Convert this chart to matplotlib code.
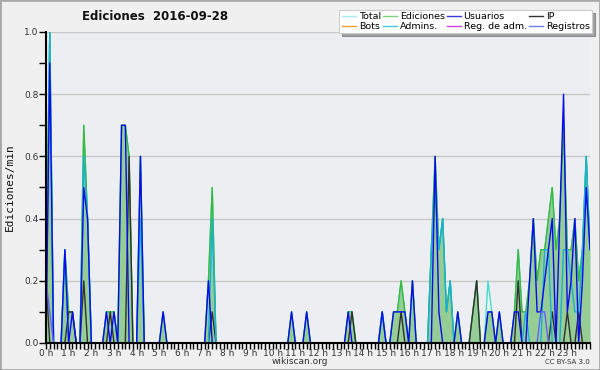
import numpy as np
import matplotlib
matplotlib.use("Agg")
from matplotlib import pyplot as plt
from matplotlib.patches import Rectangle
from matplotlib.ticker import MultipleLocator, FixedLocator, FormatStrFormatter

# edits per minute, 10 minute slots from 00:00 to 24:00
ediciones = [
    0.2, 1.0, 0, 0, 0, 0.3, 0.1, 0.1, 0, 0, 0.7, 0.4,
    0, 0, 0, 0, 0.1, 0.1, 0.1, 0, 0.7, 0.7, 0.6, 0,
    0, 0.6, 0, 0, 0, 0, 0, 0.1, 0, 0, 0, 0,
    0, 0, 0, 0, 0, 0, 0, 0.2, 0.5, 0, 0, 0,
    0, 0, 0, 0, 0, 0, 0, 0, 0, 0, 0, 0,
    0, 0, 0, 0, 0, 0.1, 0, 0, 0, 0.1, 0, 0,
    0, 0, 0, 0, 0, 0, 0, 0, 0.1, 0.1, 0, 0,
    0, 0, 0, 0, 0, 0.1, 0, 0, 0.1, 0.1, 0.2, 0.1,
    0, 0.2, 0, 0, 0, 0, 0.3, 0.6, 0.3, 0.4, 0.1, 0.2,
    0, 0.1, 0, 0, 0, 0.1, 0.2, 0, 0, 0.1, 0.1, 0,
    0.1, 0, 0, 0, 0.1, 0.3, 0.1, 0.1, 0.2, 0.4, 0.2, 0.3,
    0.3, 0.4, 0.5, 0.3, 0.4, 0.7, 0.3, 0.3, 0.4, 0.2, 0.3, 0.6,
    0.3]
total = [
    0.2, 1.0, 0, 0, 0, 0.3, 0.1, 0.1, 0, 0, 0.7, 0.4,
    0, 0, 0, 0, 0.1, 0.1, 0.1, 0, 0.7, 0.7, 0.6, 0,
    0, 0.6, 0, 0, 0, 0, 0, 0.1, 0, 0, 0, 0,
    0, 0, 0, 0, 0, 0, 0, 0.2, 0.5, 0, 0, 0,
    0, 0, 0, 0, 0, 0, 0, 0, 0, 0, 0, 0,
    0, 0, 0, 0, 0, 0.1, 0, 0, 0, 0.1, 0, 0,
    0, 0, 0, 0, 0, 0, 0, 0, 0.1, 0.1, 0, 0,
    0, 0, 0, 0, 0, 0.1, 0, 0, 0.1, 0.1, 0.2, 0.1,
    0, 0.2, 0, 0, 0, 0, 0.3, 0.6, 0.3, 0.4, 0.1, 0.2,
    0, 0.1, 0, 0, 0, 0.1, 0.2, 0, 0, 0.2, 0.1, 0,
    0.1, 0, 0, 0, 0.1, 0.3, 0.1, 0.1, 0.2, 0.4, 0.2, 0.3,
    0.3, 0.4, 0.5, 0.3, 0.4, 0.7, 0.3, 0.3, 0.4, 0.2, 0.3, 0.6,
    0.3]
usuarios = [
    0, 0.9, 0, 0, 0, 0.3, 0, 0.1, 0, 0, 0.5, 0.4,
    0, 0, 0, 0, 0.1, 0, 0.1, 0, 0.7, 0.7, 0, 0,
    0, 0.6, 0, 0, 0, 0, 0, 0.1, 0, 0, 0, 0,
    0, 0, 0, 0, 0, 0, 0, 0.2, 0, 0, 0, 0,
    0, 0, 0, 0, 0, 0, 0, 0, 0, 0, 0, 0,
    0, 0, 0, 0, 0, 0.1, 0, 0, 0, 0.1, 0, 0,
    0, 0, 0, 0, 0, 0, 0, 0, 0.1, 0, 0, 0,
    0, 0, 0, 0, 0, 0.1, 0, 0, 0.1, 0.1, 0.1, 0.1,
    0, 0.2, 0, 0, 0, 0, 0, 0.6, 0.1, 0, 0, 0,
    0, 0.1, 0, 0, 0, 0, 0, 0, 0, 0.1, 0.1, 0,
    0.1, 0, 0, 0, 0.1, 0.1, 0, 0, 0.2, 0.4, 0.1, 0.1,
    0.2, 0.3, 0.4, 0, 0.4, 0.8, 0.1, 0.2, 0.4, 0, 0.2, 0.5,
    0.3]
ip = [
    0.2, 0, 0, 0, 0, 0, 0.1, 0.1, 0, 0, 0.2, 0,
    0, 0, 0, 0, 0, 0.1, 0, 0, 0, 0, 0.6, 0,
    0, 0, 0, 0, 0, 0, 0, 0, 0, 0, 0, 0,
    0, 0, 0, 0, 0, 0, 0, 0, 0.1, 0, 0, 0,
    0, 0, 0, 0, 0, 0, 0, 0, 0, 0, 0, 0,
    0, 0, 0, 0, 0, 0, 0, 0, 0, 0, 0, 0,
    0, 0, 0, 0, 0, 0, 0, 0, 0, 0.1, 0, 0,
    0, 0, 0, 0, 0, 0, 0, 0, 0, 0, 0.1, 0,
    0, 0, 0, 0, 0, 0, 0, 0, 0, 0, 0, 0,
    0, 0, 0, 0, 0, 0.1, 0.2, 0, 0, 0, 0, 0,
    0, 0, 0, 0, 0, 0.2, 0, 0, 0, 0, 0, 0,
    0, 0, 0.1, 0, 0, 0, 0.1, 0, 0, 0.1, 0, 0,
    0]
admins = [
    0, 1.0, 0, 0, 0, 0.3, 0, 0, 0, 0, 0.6, 0.4,
    0, 0, 0, 0, 0, 0, 0, 0, 0, 0, 0, 0,
    0, 0.4, 0, 0, 0, 0, 0, 0, 0, 0, 0, 0,
    0, 0, 0, 0, 0, 0, 0, 0, 0.4, 0, 0, 0,
    0, 0, 0, 0, 0, 0, 0, 0, 0, 0, 0, 0,
    0, 0, 0, 0, 0, 0, 0, 0, 0, 0, 0, 0,
    0, 0, 0, 0, 0, 0, 0, 0, 0, 0, 0, 0,
    0, 0, 0, 0, 0, 0.1, 0, 0, 0, 0, 0, 0,
    0, 0, 0, 0, 0, 0, 0.3, 0.5, 0.3, 0.4, 0.1, 0.2,
    0, 0, 0, 0, 0, 0, 0, 0, 0, 0, 0, 0,
    0, 0, 0, 0, 0, 0, 0, 0.1, 0, 0, 0, 0,
    0.3, 0.3, 0, 0, 0, 0.3, 0.3, 0.2, 0.1, 0.1, 0.3, 0.6,
    0.3]
registros = [0.2, 0.1] + [0] * 129 + [0.1, 0.1] + [0] * 12
bots = [0] * 145
reg_adm = [0] * 145

hours = np.arange(len(ediciones)) / 6.0
hour_labels = ["%d h" % h for h in range(24)]

fig = plt.figure(figsize=(6, 3.7), dpi=100, facecolor="#f0f0f0")
fig.patches.append(Rectangle((0, 0), 1, 1, transform=fig.transFigure,
                             fill=False, edgecolor="#a8a8a8", lw=2))
ax = fig.add_axes([46 / 600, 27 / 370, 544 / 600, 311 / 370])
ax.set_facecolor("#edeef1")

ax.fill_between(hours, ediciones, color="#96cc96", lw=0, zorder=2)
ax.plot(hours, bots, color="#f0a030", lw=1, zorder=2)
ax.plot(hours, reg_adm, color="#cc44dd", lw=1, zorder=2)
ax.plot(hours, total, color="#48dcd0", lw=1, zorder=3)
ax.plot(hours, ediciones, color="#3cb83c", lw=1, zorder=3)
ax.plot(hours, ip, color="#303030", lw=1, zorder=4)
ax.plot(hours, admins, color="#18b0d8", lw=1, zorder=4)
ax.plot(hours, usuarios, color="#0a0aee", lw=1, zorder=5)
ax.plot(hours, registros, color="#6060ff", lw=1, zorder=5)

ax.set_xlim(0, 24)
ax.set_ylim(0, 1.0)
ax.yaxis.set_major_locator(MultipleLocator(0.2))
ax.yaxis.set_minor_locator(MultipleLocator(0.1))
ax.yaxis.set_major_formatter(FormatStrFormatter("%.1f"))
ax.xaxis.set_major_locator(FixedLocator(range(24)))
ax.xaxis.set_minor_locator(MultipleLocator(1 / 6))
ax.set_xticklabels(hour_labels)
ax.tick_params(axis="both", which="both", direction="out", length=4,
               width=1, color="black", labelsize=6.5, labelcolor="#333333", pad=0.5)
ax.tick_params(axis="y", which="both", length=5)
ax.grid(axis="y", color="#c8c8c8", lw=1, zorder=1)
ax.set_axisbelow(True)
for s in ["top", "right"]:
    ax.spines[s].set_visible(False)
for s in ["left", "bottom"]:
    ax.spines[s].set_linewidth(1.5)
    ax.spines[s].set_zorder(6)

fig.text(155 / 600, 1 - 17 / 370, "Ediciones  2016-09-28", ha="center",
         va="center", fontsize=8.5, fontweight="bold", color="#111111")
fig.text(10 / 600, 1 - 187 / 370, "Ediciones/min", rotation=90, ha="center",
         va="center", fontsize=8, family="DejaVu Sans Mono", color="#111111")
fig.text(300 / 600, 1 - 362 / 370, "wikiscan.org", ha="center", va="center",
         fontsize=6.5, color="#333333")
fig.text(590 / 600, 1 - 362 / 370, "CC BY-SA 3.0", ha="right", va="center",
         fontsize=5, color="#333333")

names = ["Total", "Bots", "Ediciones", "Admins.", "Usuarios", "Reg. de adm.",
         "IP", "Registros"]
colors = ["#a8e8e8", "#f0a030", "#80cc80", "#48c8e0", "#3a3ae0", "#cc44dd",
          "#333333", "#7878f0"]
handles = [plt.Line2D([], [], color=c, lw=1) for c in colors]
leg = fig.legend(handles, names, ncol=4, loc="upper right",
                 bbox_to_anchor=(592 / 600, 1 - 10 / 370), fontsize=6.8,
                 frameon=True, fancybox=False, shadow={"color": "#555555"},
                 framealpha=1, edgecolor="#cccccc", handlelength=1.5,
                 handletextpad=0.3, columnspacing=0.2, labelspacing=0.05,
                 borderpad=0.25, borderaxespad=0)
leg.get_frame().set_linewidth(0.8)

fig.savefig("out.png", dpi=100, facecolor=fig.get_facecolor())
